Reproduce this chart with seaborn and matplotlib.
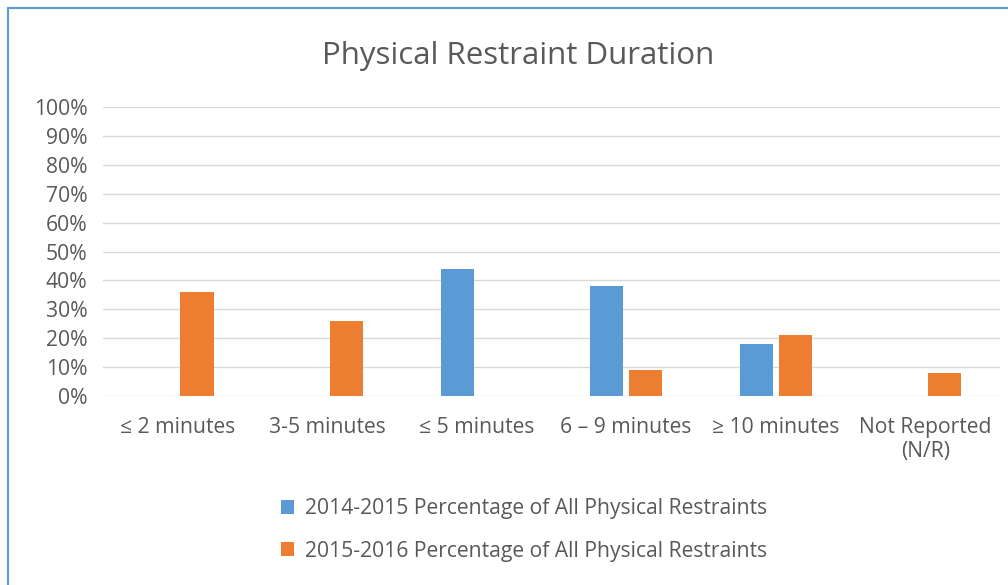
import numpy as np
import pandas as pd
import matplotlib
matplotlib.use("Agg")
import matplotlib.pyplot as plt
import seaborn as sns
from matplotlib.ticker import PercentFormatter
from matplotlib.patches import Rectangle

categories = ["≤ 2 minutes", "3-5 minutes", "≤ 5 minutes", "6 – 9 minutes", "≥ 10 minutes", "Not Reported\n(N/R)"]
series_names = ["2014-2015 Percentage of All Physical Restraints",
                "2015-2016 Percentage of All Physical Restraints"]
pct_2014_2015 = [0, 0, 0.44, 0.38, 0.18, 0]
pct_2015_2016 = [0.36, 0.26, 0, 0.09, 0.21, 0.08]
colors = ["#5B9BD5", "#ED7D31"]

df = pd.DataFrame({
    "duration": categories * 2,
    "series": [series_names[0]] * len(categories) + [series_names[1]] * len(categories),
    "pct": pct_2014_2015 + pct_2015_2016,
})

sns.set_style("white")
plt.rcParams["font.family"] = ["Open Sans", "DejaVu Sans"]
text_color = "#595959"

fig = plt.figure(figsize=(10.08, 5.85), dpi=100)
ax = fig.add_axes([0.102, 0.323, 0.890, 0.494])

sns.barplot(data=df, x="duration", y="pct", hue="series", palette=colors,
            saturation=1, width=0.52, gap=0.15, linewidth=0, ax=ax, legend=True)

ax.set_ylim(0, 1)
ax.set_yticks(np.arange(0, 1.01, 0.1))
ax.yaxis.set_major_formatter(PercentFormatter(1.0, decimals=0))
ax.grid(axis="y", color="#D9D9D9", linewidth=1)
ax.set_axisbelow(True)
for s in ax.spines.values():
    s.set_visible(False)
ax.tick_params(axis="both", length=0, labelsize=15.2, labelcolor=text_color)
ax.tick_params(axis="x", pad=15)
ax.tick_params(axis="y", pad=11)
ax.set_xlabel("")
ax.set_ylabel("")
ax.set_xlim(-0.5, len(categories) - 0.5)

handles, labels = ax.get_legend_handles_labels()
ax.get_legend().remove()
fig.legend(handles, labels, loc="center", bbox_to_anchor=(0.52, 0.094), ncol=1,
           frameon=False, fontsize=15.2, labelcolor=text_color,
           handlelength=0.6, handleheight=0.6, handletextpad=0.5, labelspacing=1.0)

fig.suptitle("Physical Restraint Duration", x=0.514, y=0.93, fontsize=22.5, color=text_color)

# light blue frame of the chart
fig.patches.append(Rectangle((8 / 1008, -0.05), 1.1, 1 - 8 / 585 + 0.05, transform=fig.transFigure,
                             fill=False, edgecolor="#5B9BD5", linewidth=1.5))

fig.savefig("out.png", dpi=100)
